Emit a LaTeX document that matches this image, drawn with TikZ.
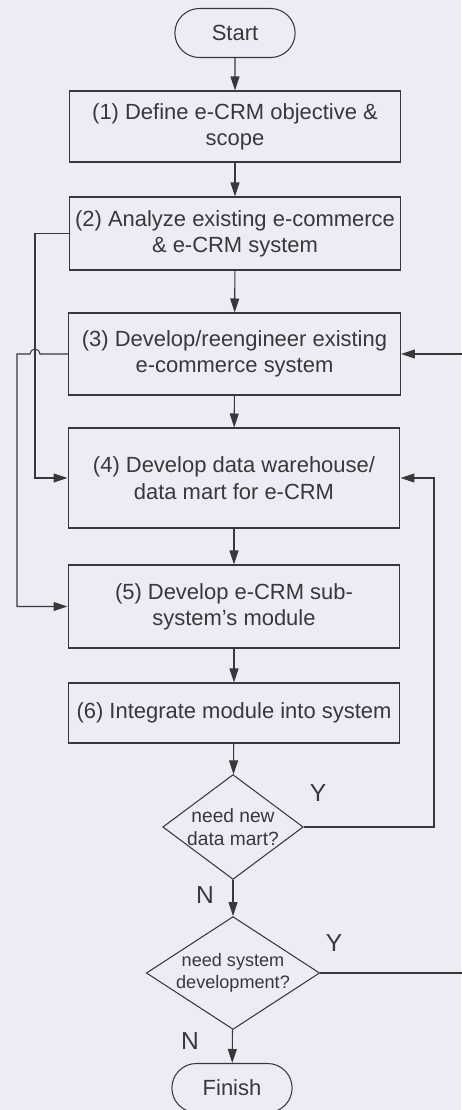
\documentclass[tikz,border=0pt]{standalone}
\usepackage{fontspec}
\setmainfont{Liberation Sans}
\usetikzlibrary{arrows.meta,shapes.geometric,shapes.misc,calc}
\definecolor{paper}{RGB}{236,236,244}
\definecolor{ink}{RGB}{55,55,60}

\begin{document}
\begin{tikzpicture}[x=0.02cm,y=-0.02cm,
 stepbox/.style={rectangle,draw=ink,line width=0.6pt,text=ink,minimum width=6.64cm,align=center,inner sep=2pt,font=\fontsize{12.5}{15}\selectfont},
 terminal/.style={rounded rectangle,draw=ink,line width=0.6pt,text=ink,minimum width=2.64cm,minimum height=0.98cm,font=\fontsize{12.5}{15}\selectfont},
 decision/.style={diamond,draw=ink,line width=0.6pt,text=ink,align=center,inner sep=0pt,font=\fontsize{10.3}{12.5}\selectfont},
 answer/.style={text=ink,font=\fontsize{14}{16}\selectfont},
 link/.style={draw=ink,line width=0.6pt},
 arrowstyle/.style={link,-{Triangle[length=2.8mm,width=1.8mm]}}]

 \fill[paper] (0,0) rectangle (461,1110);
 \useasboundingbox (0,0) rectangle (461,1110);

 \node[terminal] (start) at (235,33) {Start};
 \node[stepbox,minimum height=1.42cm] (s1) at (235,126.5) {(1) Define e-CRM objective \&\\ scope};
 \node[stepbox,minimum height=1.46cm] (s2) at (235,233.5) {(2) Analyze existing e-commerce\\ \& e-CRM system};
 \node[stepbox,minimum height=1.64cm] (s3) at (234.5,354) {(3) Develop/reengineer existing\\ e-commerce system};
 \node[stepbox,minimum height=2.00cm] (s4) at (234,478) {(4) Develop data warehouse/\\ data mart for e-CRM};
 \node[stepbox,minimum height=1.66cm] (s5) at (234,606.5) {(5) Develop e-CRM sub-\\ system's module};
 \node[stepbox,minimum height=1.20cm] (s6) at (234,713) {(6) Integrate module into system};
 \node[decision,minimum width=2.66cm,minimum height=1.98cm,aspect=1.34,font=\fontsize{10.9}{12.8}\selectfont] (d1) at (233,827) {need new\\ data mart?};
 \node[decision,minimum width=3.38cm,minimum height=2.20cm,aspect=1.536] (d2) at (233,973) {need system\\ development?};
 \node[terminal] (finish) at (232,1088) {Finish};

 % main flow
 \foreach \a/\b in {start/s1,s1/s2,s2/s3,s3/s4,s4/s5,s5/s6,s6/d1,d1/d2,d2/finish}
  \draw[arrowstyle] (\a) -- (\b);

 \node[answer] (y1) at (318,793) {Y};
 \node[answer] (n1) at (205,895) {N};
 \node[answer] (y2) at (334,943) {Y};
 \node[answer] (n2) at (190,1041) {N};

 % loops on the left
 \coordinate (l2) at (35,233.5);
 \coordinate (l3) at (17,354);
 \draw[arrowstyle] (s2.west) -- (l2) |- (s4.west);
 \draw[arrowstyle] (s3.west) -- (40,354) arc (0:-180:5) -- (l3) |- (s5.west);

 % loops on the right
 \coordinate (r1) at (434,827);
 \coordinate (r2) at (463,973);
 \draw[arrowstyle] (d1.east) -- (r1) |- (s4.east);
 \draw[arrowstyle] (d2.east) -- (r2) |- (s3.east);
\end{tikzpicture}
\end{document}
